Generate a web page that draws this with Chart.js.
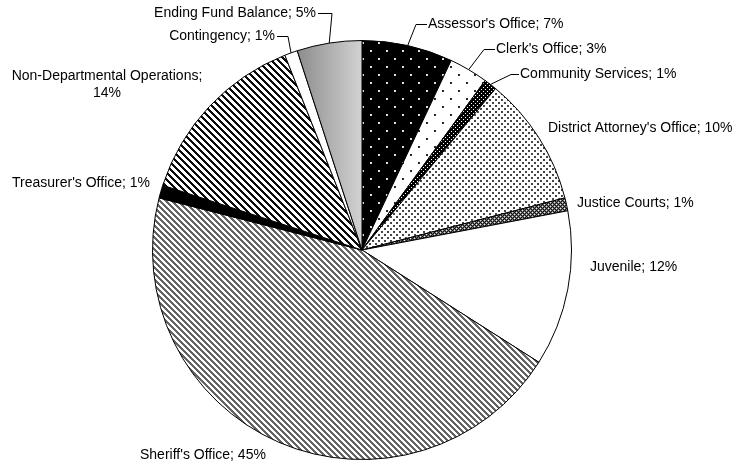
<!DOCTYPE html>
<html>
<head>
<meta charset="utf-8">
<script src="https://cdn.jsdelivr.net/npm/chart.js@4.4.1/dist/chart.umd.min.js"></script>
<style>
  body { margin: 0; background: #fff; }
  canvas { display: block; }
</style>
</head>
<body>
<canvas id="chartOrcamento" width="736" height="466"></canvas>
<script>
// Dados do gráfico
const categorias = [
    "Assessor's Office", "Clerk's Office", "Community Services", "District Attorney's Office",
    "Justice Courts", "Juvenile", "Sheriff's Office", "Treasurer's Office",
    "Non-Departmental Operations", "Contingency", "Ending Fund Balance"
];
const percentuais = [7, 3, 1, 10, 1, 12, 45, 1, 14, 1, 5];

// Posição dos rótulos (texto e cotovelo da linha guia)
const rotulos = [
    { x: 428, y: 24, align: 'left', elbow: 416 },
    { x: 496, y: 49, align: 'left', elbow: 484 },
    { x: 520, y: 74, align: 'left', elbow: 511 },
    { x: 548, y: 128, align: 'left' },
    { x: 577, y: 203, align: 'left' },
    { x: 590, y: 267, align: 'left' },
    { x: 140, y: 455, align: 'left' },
    { x: 12, y: 183, align: 'left' },
    { x: 107, y: 76, align: 'center', twoLines: true },
    { x: 275, y: 36, align: 'right', elbow: 288 },
    { x: 316, y: 13, align: 'right', elbow: 332 }
];

// Cria padrão a partir de uma função por pixel
function padrao(w, h, fn) {
    const c = document.createElement('canvas');
    c.width = w; c.height = h;
    const g = c.getContext('2d');
    const img = g.createImageData(w, h);
    for (let y = 0; y < h; y++) {
        for (let x = 0; x < w; x++) {
            const v = fn(x, y);
            const i = (y * w + x) * 4;
            img.data[i] = v; img.data[i + 1] = v; img.data[i + 2] = v; img.data[i + 3] = 255;
        }
    }
    g.putImageData(img, 0, 0);
    return g.createPattern(c, 'repeat');
}

const ctx = document.getElementById('chartOrcamento').getContext('2d');

const pontosPretos = padrao(16, 16, (x, y) => ((x === 2 || x === 3) && (y === 2 || y === 3)) || ((x === 10 || x === 11) && (y === 10 || y === 11)) ? 220 : 0);
const pontosBrancos = padrao(16, 16, (x, y) => ((x === 2 || x === 3) && (y === 2 || y === 3)) || ((x === 10 || x === 11) && (y === 10 || y === 11)) ? 40 : 255);
const pontosDensos = padrao(4, 4, (x, y) => (x === 1 && y === 1) || (x === 3 && y === 3) ? 255 : 0);
const pontosCinza = padrao(6, 6, (x, y) => ((x < 2 && y < 2) || (x >= 3 && x < 5 && y >= 3 && y < 5)) ? 70 : 255);
const trama = padrao(4, 4, (x, y) => ((x + y) % 4 === 0 && x % 2 === 0) ? 235 : ((x + y) % 2 === 0 ? 20 : 110));
const listrasCinza = padrao(6, 6, (x, y) => (((x - y) % 6 + 6) % 6) < 3 ? 100 : 255);
const listrasPretas = padrao(7, 7, (x, y) => (((x - y) % 7 + 7) % 7) < 3 ? 10 : 255);

const preenchimentos = [
    pontosPretos, pontosBrancos, pontosDensos, pontosCinza, trama, '#ffffff',
    listrasCinza, '#000000', listrasPretas, '#ffffff', null
];

function corFatia(c) {
    const f = preenchimentos[c.dataIndex];
    if (f) return f;
    const area = c.chart.chartArea;
    if (!area) return '#b0b0b0';
    const cx = (area.left + area.right) / 2;
    const r = Math.min(area.width, area.height) / 2;
    const grad = c.chart.ctx.createLinearGradient(cx - r * 0.31, 0, cx, 0);
    grad.addColorStop(0, '#8c8c8c');
    grad.addColorStop(1, '#d2d2d2');
    return grad;
}

const rotulosPlugin = {
    id: 'rotulos',
    afterDraw(chart) {
        const g = chart.ctx;
        const meta = chart.getDatasetMeta(0);
        g.save();
        g.font = '14px "Liberation Sans", Arial, sans-serif';
        g.fillStyle = '#000';
        g.strokeStyle = '#000';
        g.lineWidth = 1;
        g.textBaseline = 'middle';
        meta.data.forEach((arc, i) => {
            const p = rotulos[i];
            const texto = categorias[i] + '; ' + percentuais[i] + '%';
            g.textAlign = p.align;
            if (p.twoLines) {
                g.fillText(categorias[i] + ';', p.x, p.y);
                g.fillText(percentuais[i] + '%', p.x, p.y + 17);
            } else {
                g.fillText(texto, p.x, p.y);
            }
            if (p.elbow !== undefined) {
                const meio = (arc.startAngle + arc.endAngle) / 2;
                const ax = arc.x + Math.cos(meio) * arc.outerRadius;
                const ay = arc.y + Math.sin(meio) * arc.outerRadius;
                const ini = p.align === 'left' ? p.x - 1 : p.x + 2;
                g.beginPath();
                g.moveTo(ini, p.y + 0.5);
                g.lineTo(p.elbow, p.y + 0.5);
                g.lineTo(ax, ay);
                g.stroke();
            }
        });
        g.restore();
    }
};

new Chart(ctx, {
    type: 'pie',
    data: {
        labels: categorias,
        datasets: [{
            data: percentuais,
            backgroundColor: corFatia,
            borderColor: '#000',
            borderWidth: 1
        }]
    },
    options: {
        responsive: false,
        animation: false,
        layout: { padding: { top: 40, bottom: 6, left: 152, right: 164 } },
        plugins: { legend: { display: false }, tooltip: { enabled: false } }
    },
    plugins: [rotulosPlugin]
});
</script>
</body>
</html>
